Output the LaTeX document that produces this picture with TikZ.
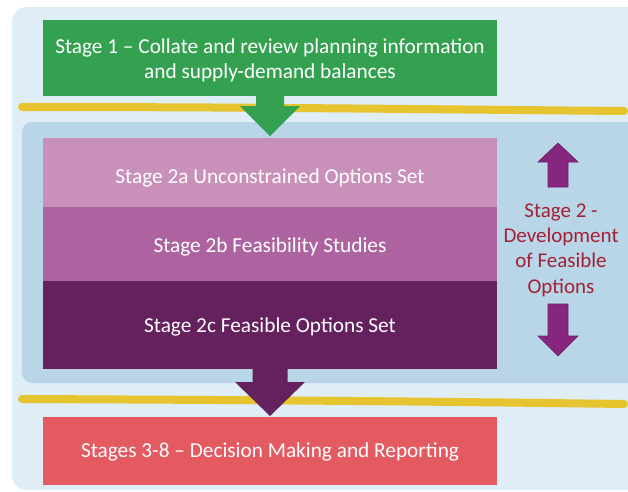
\documentclass[tikz,border=0pt]{standalone}
\usepackage{fontspec}
\setmainfont{Carlito}
\usetikzlibrary{positioning}
\usepackage{xcolor}
\definecolor{outerbg}{HTML}{DFEDF6}
\definecolor{panelbg}{HTML}{B9D6E8}
\definecolor{stagegreen}{HTML}{33A150}
\definecolor{stageA}{HTML}{C991BA}
\definecolor{stageB}{HTML}{AE63A1}
\definecolor{stageC}{HTML}{65205E}
\definecolor{stagered}{HTML}{E45A61}
\definecolor{arrowpurple}{HTML}{86267E}
\definecolor{markeryellow}{HTML}{E6C430}
\definecolor{labelred}{HTML}{A32035}

\begin{document}
\begin{tikzpicture}[
            x=1pt, y=-1pt,
            node distance=0pt,
            stagebox/.style = {rectangle, minimum width=454pt, inner sep=0pt, outer sep=0pt,
                               text=white, align=center, font=\fontsize{21.3}{25}\selectfont},
            drop/.style = {text height=#1, text depth=0pt},
            marker/.style = {draw=markeryellow, line width=8pt, line cap=round},
            sidearrow/.style = {fill=arrowpurple, draw=arrowpurple!80!black, line width=0.6pt}]
            \clip (0,0) rectangle (628,491);
            % background panels
            \fill[outerbg, rounded corners=15pt] (12,7) rectangle (660,490);
            \fill[panelbg, rounded corners=10pt] (22,122) rectangle (660,383);
            % highlighter lines
            \draw[marker] (22,107) .. controls (250,107) and (400,109) .. (624,111);
            \draw[marker] (22,399) .. controls (250,400) and (400,401) .. (624,404);
            % nodes
            \node (s1) [stagebox, fill=stagegreen, minimum height=76pt, drop=40pt] at (270,58)
                {Stage 1 – Collate and review planning information\\and supply-demand balances};
            \node (s2a) [stagebox, fill=stageA, minimum height=69pt, drop=21pt] at (270,172.5)
                {Stage 2a Unconstrained Options Set};
            \node (s2b) [stagebox, fill=stageB, minimum height=74pt, drop=16pt, below=of s2a]
                {Stage 2b Feasibility Studies};
            \node (s2c) [stagebox, fill=stageC, minimum height=88pt, drop=14pt, below=of s2b]
                {Stage 2c Feasible Options Set};
            \node (s3) [stagebox, fill=stagered, minimum height=68pt, drop=12pt] at (270,451)
                {Stages 3-8 – Decision Making and Reporting};
            \node (s2label) [text=labelred, align=center, font=\fontsize{21}{25.3}\selectfont] at (561,250)
                {Stage 2 -\\Development\\of Feasible\\Options};
            % block arrows
            \fill[stagegreen] ([xshift=-14pt]s1.south) -- ++(0,10) -- ++(-16,0) -- ++(30,30)
                -- ++(30,-30) -- ++(-16,0) -- ++(0,-10) -- cycle;
            \fill[stageC] ([xshift=-17.5pt]s2c.south) -- ++(0,13) -- ++(-17.5,0) -- ++(35,34)
                -- ++(35,-34) -- ++(-17.5,0) -- ++(0,-13) -- cycle;
            \filldraw[sidearrow] (548,187) -- (548,162) -- (538,162) -- (558,143)
                -- (578,162) -- (568,162) -- (568,187) -- cycle;
            \filldraw[sidearrow] (548,304) -- (548,336) -- (538,336) -- (558,356)
                -- (578,336) -- (568,336) -- (568,304) -- cycle;
\end{tikzpicture}
\end{document}
